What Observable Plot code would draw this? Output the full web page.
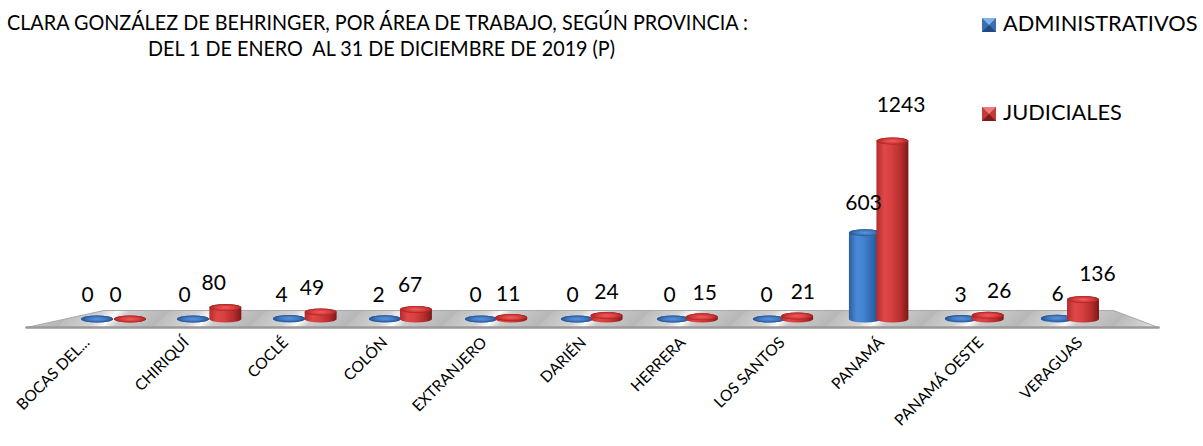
<!DOCTYPE html>
<html><head><meta charset="utf-8">
<script src="https://cdn.jsdelivr.net/npm/d3@7"></script>
<script src="https://cdn.jsdelivr.net/npm/@observablehq/plot@0.6"></script>
<style>
body{margin:0;background:#fff;}
#wrap{position:relative;width:1203px;height:446px;overflow:hidden;font-family:Lato,sans-serif;color:#000}
#wrap svg{position:absolute;left:0;top:0}
.t{position:absolute;white-space:pre;line-height:1;}
.sq{position:absolute;width:0;height:0;border-style:solid;border-width:7px;}
</style></head><body><div id="wrap"></div>
<script>
// ---- data ----
const titleLines = [
  "CLARA GONZÁLEZ DE BEHRINGER, POR ÁREA DE TRABAJO, SEGÚN PROVINCIA :",
  "DEL 1 DE ENERO  AL 31 DE DICIEMBRE DE 2019 (P)"
];
const categories = ["BOCAS DEL...", "CHIRIQUÍ", "COCLÉ", "COLÓN", "EXTRANJERO", "DARIÉN", "HERRERA", "LOS SANTOS", "PANAMÁ", "PANAMÁ OESTE", "VERAGUAS"];
const seriesNames = ["ADMINISTRATIVOS", "JUDICIALES"];
const administrativos = [0, 0, 4, 2, 0, 0, 0, 0, 603, 3, 6];
const judiciales = [0, 80, 49, 67, 11, 24, 15, 21, 1243, 26, 136];

// ---- build tables ----
const blue = categories.map((c, i) => ({cat: c, i, v: administrativos[i]}));
const red = categories.map((c, i) => ({cat: c, i, v: judiciales[i]}));
const n = categories.length;
// slight perspective: blue and red cylinders at each category
const cBlue = d => -0.167 + 1.003 * d.i;
const cRed = d => 0.178 + 0.9958 * d.i;
const hw = 0.167;
const floorPts = [
  {x: -0.91, y: -56}, {x: -0.10, y: 63}, {x: n - 1 + 0.45, y: 63}, {x: n - 1 + 0.92, y: -56}, {x: -0.91, y: -56}
];

function cyl(data, c, body, top) {
  return [
    Plot.rect(data, {x1: d => c(d) - hw, x2: d => c(d) + hw, y1: 0, y2: "v",
      insetTop: -3.5, insetBottom: -3.5, rx: 16, ry: 3.5, fill: body}),
    Plot.rect(data, {x1: d => c(d) - hw, x2: d => c(d) + hw, y1: "v", y2: "v",
      insetTop: -3.5, insetBottom: -3.5, rx: 16, ry: 3.5, fill: top})
  ];
}

const chart = Plot.plot({
  width: 1203, height: 446,
  marginLeft: 113, marginRight: 133, marginTop: 141, marginBottom: 127,
  x: {axis: null, domain: [0, n - 1]},
  y: {axis: null, domain: [0, 1243]},
  style: {fontFamily: "Lato, sans-serif", background: "transparent", color: "#000"},
  marks: [
    Plot.line(floorPts, {x: "x", y: "y", fill: "url(#floorGrad)", stroke: "#a8a8a8", strokeWidth: 1}),
    Plot.line(floorPts.slice(3).concat([floorPts[0]]), {x: "x", y: "y", stroke: "#9a9a9a", strokeWidth: 2.5}),
    ...cyl(blue, cBlue, "url(#bodyBlue)", "url(#topBlue)"),
    ...cyl(red, cRed, "url(#bodyRed)", "url(#topRed)"),
    Plot.text(blue, {x: d => -0.272 + 1.0136 * d.i, y: d => d.v * 1.067, dy: -24, text: d => String(d.v), fontSize: 21, fill: "#000"}),
    Plot.text(red, {x: d => 0.021 + 1.026 * d.i, y: d => d.v * 1.067, dy: -24, text: d => String(d.v), fontSize: 21, fill: "#000"}),
    Plot.text(categories, {x: (d, i) => -0.24 + 1.0376 * i, frameAnchor: "bottom", dy: 24, rotate: -45, textAnchor: "end", text: d => d, fontSize: 15.5, fill: "#000"})
  ]
});

const svg = d3.select(chart);
const defs = svg.insert("defs", ":first-child");
function lin(id, stops, attrs) {
  const g = defs.append("linearGradient").attr("id", id);
  Object.entries(attrs || {x1: 0, y1: 0, x2: 1, y2: 0}).forEach(([k, v]) => g.attr(k, v));
  stops.forEach(([o, c]) => g.append("stop").attr("offset", o).attr("stop-color", c));
}
function rad(id, stops) {
  const g = defs.append("radialGradient").attr("id", id).attr("cx", 0.5).attr("cy", 0.5).attr("r", 0.5);
  stops.forEach(([o, c]) => g.append("stop").attr("offset", o).attr("stop-color", c));
}
lin("bodyBlue", [[0, "#2b5fa3"], [0.25, "#4a8ad6"], [0.45, "#4383d0"], [0.75, "#2f66ad"], [1, "#1d4580"]]);
lin("bodyRed", [[0, "#b52b2b"], [0.25, "#e04848"], [0.45, "#d84040"], [0.75, "#b82e2e"], [1, "#7e1818"]]);
rad("topBlue", [[0, "#5a94d8"], [0.6, "#3f78bf"], [1, "#25528f"]]);
rad("topRed", [[0, "#ee5e5e"], [0.6, "#d83d3d"], [1, "#a82222"]]);
lin("floorGrad", [[0, "#bdbdbd"], [0.3, "#d2d2d2"], [0.46, "#fbfbfb"], [0.58, "#cccccc"], [1, "#b6b6b6"]],
  {gradientUnits: "userSpaceOnUse", x1: 0, y1: 0, x2: 48, y2: 48, spreadMethod: "repeat"});

const wrap = document.getElementById("wrap");
wrap.appendChild(chart);

function addText(txt, css) {
  const d = document.createElement("div");
  d.className = "t";
  d.textContent = txt;
  Object.assign(d.style, css);
  wrap.appendChild(d);
  return d;
}
// fit a text line between two x positions (matches the reference's narrower face)
function fitText(txt, x0, x1, top, size) {
  const d = addText(txt, {left: x0 + "px", top: top + "px", fontSize: size + "px", transformOrigin: "0 0"});
  const w = d.getBoundingClientRect().width;
  if (w > 0) d.style.transform = `scaleX(${(x1 - x0) / w})`;
  return d;
}
// title
fitText(titleLines[0], 7, 748, 11, 21);
fitText(titleLines[1], 148, 615, 37, 21);
// legend
const legendCols = [
  {name: seriesNames[0], top: 18, c: ["#7fb3ee", "#3b6fb0", "#1f4a85", "#3b6fb0"]},
  {name: seriesNames[1], top: 107, c: ["#f07a7a", "#c33a3a", "#7e1a1a", "#c33a3a"]}
];
legendCols.forEach(l => {
  const s = document.createElement("div");
  s.className = "sq";
  s.style.left = "982px"; s.style.top = l.top + "px";
  s.style.borderColor = l.c.join(" ");
  wrap.appendChild(s);
  addText(l.name, {left: "1003px", top: (l.top - 6) + "px", fontSize: "21.8px"});
});
</script></body></html>
